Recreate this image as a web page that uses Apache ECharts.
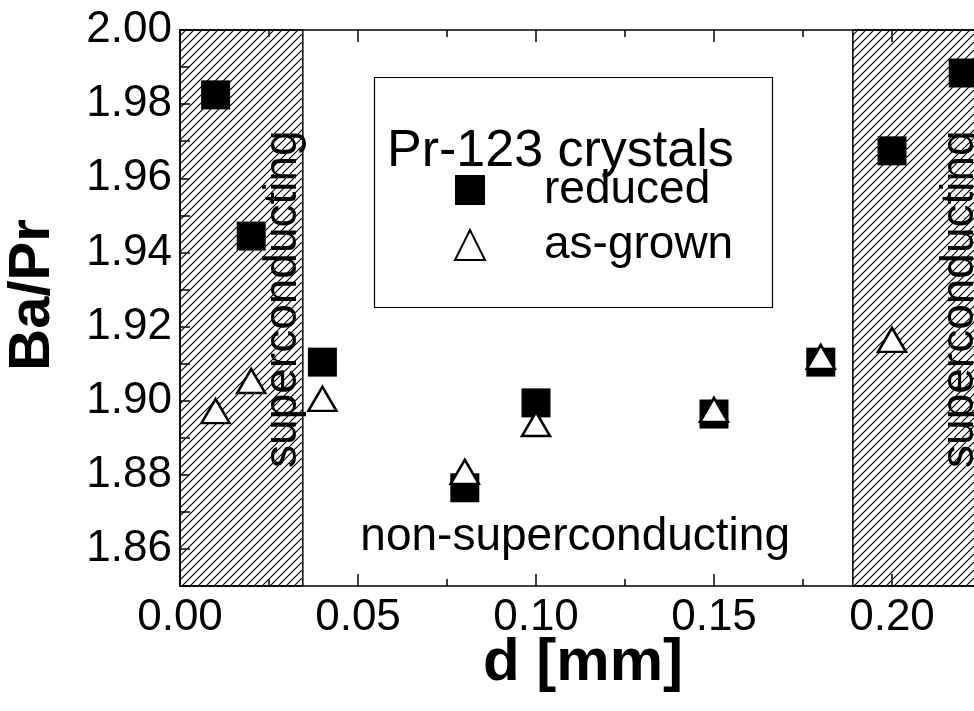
<!DOCTYPE html>
<html><head><meta charset="utf-8">
<script src="https://cdn.jsdelivr.net/npm/echarts@6/dist/echarts.min.js"></script>
<style>html,body{margin:0;padding:0;background:#fff}#c{width:974px;height:711px}</style>
</head><body><div id="c"></div>
<script>
// ---- data ----
const dReduced = [0.01, 0.02, 0.04, 0.08, 0.10, 0.15, 0.18, 0.20, 0.22];
const baReduced = [1.9825, 1.9444, 1.9104, 1.8765, 1.8994, 1.8964, 1.9104, 1.9674, 1.9884];
const dAsGrown = [0.01, 0.02, 0.04, 0.08, 0.10, 0.15, 0.18, 0.20];
const baAsGrown = [1.8972, 1.9053, 1.9005, 1.8808, 1.8937, 1.8975, 1.9118, 1.9164];
const superRanges = [[0, 0.0345], [0.189, 0.25]];
const annotations = [
  {text: 'superconducting', d: 0.0289, ba: 1.9274, rotate: 90},
  {text: 'superconducting', d: 0.2191, ba: 1.9274, rotate: 90},
  {text: 'non-superconducting', d: 0.111, ba: 1.8632, rotate: 0}
];
const legendTitle = 'Pr-123 crystals';
const seriesNames = ['reduced', 'as-grown'];

// hatch pattern
function hatch() {
  const c = document.createElement('canvas');
  c.width = 8; c.height = 8;
  const g = c.getContext('2d');
  g.strokeStyle = '#000'; g.lineWidth = 1.2;
  g.beginPath();
  g.moveTo(0, 8); g.lineTo(8, 0);
  g.moveTo(-2, 2); g.lineTo(2, -2);
  g.moveTo(6, 10); g.lineTo(10, 6);
  g.stroke();
  return c;
}

const FONT = 'Liberation Sans';
const chart = echarts.init(document.getElementById('c'));
const tickFont = {fontFamily: FONT, fontSize: 44, color: '#000'};

chart.setOption({
  animation: false,
  backgroundColor: '#fff',
  grid: {left: 180, top: 30, width: 890, height: 556, containLabel: false, outerBoundsMode: 'none'},
  xAxis: [{
    type: 'value', min: 0, max: 0.25, interval: 0.05,
    name: 'd [mm]', nameLocation: 'middle', nameGap: 47, nameMoveOverlap: false,
    nameTextStyle: {fontFamily: FONT, fontSize: 60, fontWeight: 'bold', color: '#000', padding: [0, 84, 0, 0]},
    axisLine: {lineStyle: {color: '#000', width: 1.5}},
    axisTick: {inside: true, length: 12, lineStyle: {color: '#000', width: 1.5}},
    minorTick: {show: true, splitNumber: 2, length: 7, lineStyle: {color: '#000', width: 1.5}},
    axisLabel: Object.assign({margin: 10, formatter: v => v.toFixed(2)}, tickFont),
    splitLine: {show: false}
  }, {
    type: 'value', position: 'top', min: 0, max: 0.25, interval: 0.05,
    axisLine: {show: true, lineStyle: {color: '#000', width: 1.5}},
    axisTick: {inside: true, length: 12, lineStyle: {color: '#000', width: 1.5}},
    minorTick: {show: true, splitNumber: 2, length: 7, lineStyle: {color: '#000', width: 1.5}},
    axisLabel: {show: false}, splitLine: {show: false}
  }],
  yAxis: {
    type: 'value', min: 1.85, max: 2.00, interval: 0.01,
    name: 'Ba/Pr', nameLocation: 'middle', nameGap: 118,
    nameTextStyle: {fontFamily: FONT, fontSize: 58, fontWeight: 'bold', color: '#000', padding: [0, 0, 0, 26]},
    axisLine: {lineStyle: {color: '#000', width: 1.5}},
    axisTick: {inside: true, length: 10, lineStyle: {color: '#000', width: 1.5}},
    axisLabel: Object.assign({margin: 8, formatter: v => (Math.round(v * 100) % 2 === 0 ? v.toFixed(2) : '')}, tickFont),
    splitLine: {show: false}
  },
  title: {
    text: legendTitle, left: 387, top: 126, padding: 0,
    textStyle: {fontFamily: FONT, fontSize: 52, fontWeight: 'normal', color: '#000'}
  },
  legend: {
    orient: 'vertical', left: 454, top: 167, itemGap: 9, padding: 0,
    itemWidth: 30, itemHeight: 30,
    textStyle: {fontFamily: FONT, fontSize: 46, color: '#000', padding: [0, 0, 0, 54]},
    data: seriesNames
  },
  graphic: [{
    type: 'rect', left: 372, top: 75, z: 10,
    shape: {width: 398, height: 230},
    style: {fill: 'none', stroke: '#000', lineWidth: 1.2}
  }],
  series: [{
    type: 'scatter', name: '_areas', data: [], silent: true, z: 1,
    markArea: {
      silent: true,
      itemStyle: {color: {image: hatch(), repeat: 'repeat'}, borderColor: '#000', borderWidth: 1.5, opacity: 1},
      data: superRanges.map(r => [{xAxis: r[0]}, {xAxis: r[1]}])
    }
  }, {
    type: 'scatter', name: '_text', silent: true, z: 3,
    symbolSize: 1, itemStyle: {opacity: 0},
    data: annotations.map(a => ({
      value: [a.d, a.ba],
      label: {show: true, position: 'inside', formatter: a.text, rotate: a.rotate,
        fontFamily: FONT, fontSize: 46, color: '#000', opacity: 1}
    }))
  }, {
    type: 'scatter', name: seriesNames[0], z: 4,
    symbol: 'rect', symbolSize: 29,
    itemStyle: {color: '#000', opacity: 1},
    data: dReduced.map((d, i) => [d, baReduced[i]])
  }, {
    type: 'scatter', name: seriesNames[1], z: 5,
    symbol: 'triangle', symbolSize: [28, 24],
    itemStyle: {color: '#fff', borderColor: '#000', borderWidth: 2.5, opacity: 1},
    data: dAsGrown.map((d, i) => [d, baAsGrown[i]])
  }]
});
</script></body></html>
